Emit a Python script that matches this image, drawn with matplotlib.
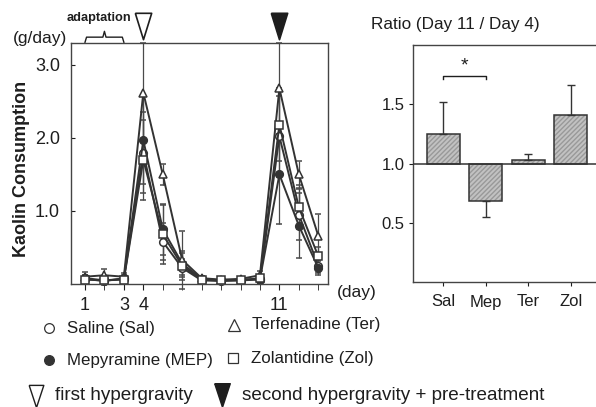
import matplotlib
matplotlib.use('Agg')
import matplotlib.pyplot as plt
import numpy as np

plt.rcParams['font.family'] = ['Liberation Sans', 'DejaVu Sans']
INK = '#1e1e1e'
LINE = '#333333'

# kaolin consumption per day (g/day)
days = np.arange(1, 14)
sal = [0.08, 0.05, 0.07, 1.80, 0.58, 0.22, 0.05, 0.04, 0.05, 0.06, 2.02, 0.95, 0.25]
mep = [0.07, 0.04, 0.08, 1.97, 0.75, 0.28, 0.07, 0.05, 0.06, 0.07, 1.50, 0.80, 0.22]
ter = [0.10, 0.12, 0.10, 2.62, 1.50, 0.33, 0.08, 0.06, 0.07, 0.12, 2.68, 1.50, 0.66]
zol = [0.06, 0.05, 0.06, 1.70, 0.68, 0.25, 0.06, 0.05, 0.05, 0.08, 2.18, 1.05, 0.38]
sal_err = [0.05, 0.04, 0.04, 0.55, 0.25, 0.12, 0.03, 0.03, 0.03, 0.04, 0.55, 0.35, 0.10]
mep_err = [0.06, 0.05, 0.05, 0.60, 0.35, 0.15, 0.03, 0.03, 0.03, 0.05, 0.68, 0.45, 0.10]
ter_err = [0.06, 0.08, 0.05, 0.68, 0.15, 0.40, 0.03, 0.03, 0.03, 0.06, 0.62, 0.18, 0.30]
zol_err = [0.04, 0.04, 0.04, 0.55, 0.40, 0.20, 0.03, 0.03, 0.03, 0.04, 0.50, 0.30, 0.12]
day_labels = [1, 3, 4, 11]
hypergravity_days = [4, 11]

# ratio day 11 / day 4
groups = ['Sal', 'Mep', 'Ter', 'Zol']
ratio = [1.25, 0.68, 1.03, 1.41]
ratio_err = [0.27, 0.13, 0.05, 0.25]

W, H = 596, 407
fig = plt.figure(figsize=(W / 100, H / 100), dpi=100)

def fbox(x0, y0, x1, y1):
    return [x0 / W, 1 - y1 / H, (x1 - x0) / W, (y1 - y0) / H]

# ---------------- left panel ----------------
ax = fig.add_axes(fbox(71, 43, 328, 284))
series = [(sal, sal_err, 'o', 'white'), (mep, mep_err, 'o', LINE),
          (ter, ter_err, '^', 'white'), (zol, zol_err, 's', 'white')]
for vals, err, mk, fc in series:
    ax.errorbar(days, vals, yerr=err, color=LINE, lw=1.4, marker=mk, ms=5.5,
                mfc=fc, mec=LINE, mew=1.1, elinewidth=0.9, capsize=2,
                ecolor='#4a4a4a', clip_on=False)
ax.set_xlim(0.28, 13.5)
ax.set_ylim(0, 3.30)
ax.set_yticks([1.0, 2.0, 3.0])
ax.set_yticklabels(['1.0', '2.0', '3.0'])
ax.set_xticks(day_labels)
ax.set_xticks(days, minor=True)
ax.tick_params(axis='x', which='both', direction='out', length=4, pad=5,
               labelsize=13, colors=INK)
ax.tick_params(axis='y', direction='in', length=3, pad=8, labelsize=13,
               colors=INK)
for s in ax.spines.values():
    s.set_color('#444444')
    s.set_linewidth(1.0)

# hypergravity markers above the panel
tri = [(-0.31, 0.5), (0.31, 0.5), (0, -0.5), (-0.31, 0.5)]
ax.plot([hypergravity_days[0]], [3.53], marker=tri, ms=19, mfc='white',
        mec=INK, mew=1.2, clip_on=False, ls='none')
ax.plot([hypergravity_days[1]], [3.53], marker=tri, ms=19, mfc=INK,
        mec=INK, mew=1.2, clip_on=False, ls='none')

# adaptation brace (days 1-3)
bx = [1.0, 1.08, 1.92, 2.0, 2.08, 2.92, 3.0]
by = [3.31, 3.38, 3.38, 3.46, 3.38, 3.38, 3.31]
ax.plot(bx, by, color=INK, lw=1.0, clip_on=False)
ax.text(1.72, 3.64, 'adaptation', ha='center', va='center', fontsize=9.2,
        color=INK, fontweight='bold')

fig.text(67 / W, 1 - 39 / H, '(g/day)', ha='right', va='center',
         fontsize=12.5, color=INK)
fig.text(22 / W, 1 - 169 / H, 'Kaolin Consumption', rotation=90,
         ha='center', va='center', fontsize=13, fontweight='bold', color=INK)
fig.text(357 / W, 1 - 293 / H, '(day)', ha='center', va='center',
         fontsize=12.5, color=INK)

# ---------------- right panel ----------------
bx2 = fig.add_axes(fbox(413, 45, 597, 282))
pos = np.arange(len(groups))
heights = [r - 1 for r in ratio]
bx2.bar(pos, heights, bottom=1, width=0.78, color='#c2c2c2',
        edgecolor='#999999', hatch='///////', lw=0, zorder=2)
bx2.bar(pos, heights, bottom=1, width=0.78, fill=False,
        edgecolor='#333333', lw=1.1, zorder=3)
for p, r, e in zip(pos, ratio, ratio_err):
    sign = 1 if r >= 1 else -1
    bx2.errorbar([p], [r], yerr=[[0 if sign > 0 else e], [e if sign > 0 else 0]],
                 color='#333333', lw=1.0, capsize=3, capthick=1.0, zorder=4)
bx2.axhline(1.0, color='#333333', lw=1.1, zorder=3)
bx2.plot([0, 0, 1, 1], [1.71, 1.74, 1.74, 1.71], color=INK, lw=1.0)
bx2.text(0.5, 1.82, '*', ha='center', va='center', fontsize=14, color=INK)
bx2.set_xlim(-0.71, 3.62)
bx2.set_ylim(0, 2.0)
bx2.set_yticks([0.5, 1.0, 1.5])
bx2.set_yticklabels(['0.5', '1.0', '1.5'])
bx2.set_xticks(pos)
bx2.set_xticklabels(groups)
bx2.tick_params(axis='x', direction='out', length=3, pad=6, labelsize=12,
                colors=INK)
bx2.tick_params(axis='y', direction='out', length=3, pad=3, labelsize=12,
                colors=INK)
for s in bx2.spines.values():
    s.set_color('#444444')
    s.set_linewidth(1.0)
fig.text(371 / W, 1 - 25 / H, 'Ratio (Day 11 / Day 4)', ha='left',
         va='center', fontsize=12.3, color=INK)

# ---------------- legend ----------------
lay = fig.add_axes([0, 0, 1, 1])
lay.set_xlim(0, W)
lay.set_ylim(H, 0)
lay.axis('off')
entries = [(49, 328, 'o', 'white', 'Saline (Sal)'),
           (49, 360, 'o', LINE, 'Mepyramine (MEP)'),
           (234, 325, '^', 'white', 'Terfenadine (Ter)'),
           (233, 358, 's', 'white', 'Zolantidine (Zol)')]
for x, y, mk, fc, lab in entries:
    ms = 8.5 if mk == '^' else 7
    lay.plot([x], [y], marker=mk, ms=ms, mfc=fc, mec=LINE, mew=0.9)
    lay.text(x + 18, y, lab, ha='left', va='center', fontsize=12.2, color=INK)
tri2 = [(-0.33, 0.5), (0.33, 0.5), (0, -0.5), (-0.33, 0.5)]
lay.plot([36], [396], marker=tri2, ms=16, mfc='white', mec=INK, mew=1.0)
lay.text(55, 396, 'first hypergravity', ha='left', va='center',
         fontsize=13.6, color=INK)
lay.plot([222], [395], marker=tri2, ms=17, mfc=INK, mec=INK, mew=1.0)
lay.text(242, 396, 'second hypergravity + pre-treatment', ha='left',
         va='center', fontsize=13.6, color=INK)

fig.savefig('out.png', dpi=100)
